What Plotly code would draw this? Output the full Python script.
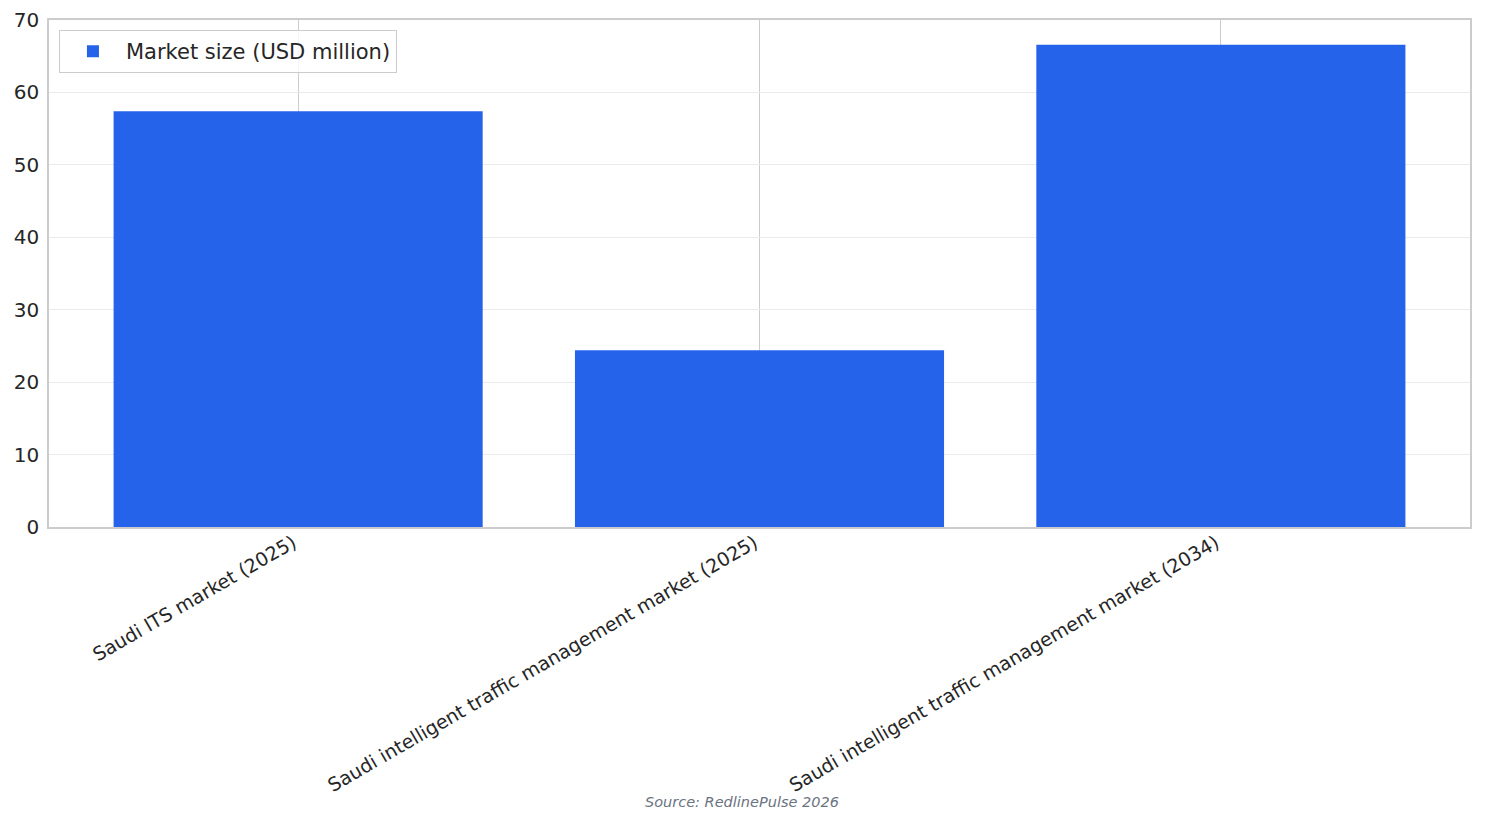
import plotly.graph_objects as go

categories = [
    "Saudi ITS market (2025)",
    "Saudi intelligent traffic management market (2025)",
    "Saudi intelligent traffic management market (2034)",
]
market_size = [57.4, 24.4, 66.6]
series_name = "Market size (USD million)"
source_note = "Source: RedlinePulse 2026"

fig = go.Figure()
fig.add_trace(go.Bar(x=categories, y=market_size, name=series_name,
                     marker=dict(color="#2563eb", line=dict(width=0)),
                     width=0.8, showlegend=True))

# page body has an 8px margin, so the figure is a bit smaller than the window
fig.update_layout(
    width=1477, height=816,
    margin=dict(l=41, r=15, t=12, b=297),
    paper_bgcolor="white", plot_bgcolor="white",
    font=dict(family="DejaVu Sans", color="#262626"),
    showlegend=True,
    legend=dict(x=0.007, y=0.98, xanchor="left", yanchor="top",
                bordercolor="#cccccc", borderwidth=1, bgcolor="rgba(255,255,255,0.8)",
                font=dict(size=21), itemwidth=56),
    bargap=0.2,
)
fig.update_xaxes(range=[-0.54, 2.54], tickangle=-30, tickfont=dict(size=19),
                 showgrid=True, gridcolor="#cccccc", gridwidth=1,
                 showline=True, linecolor="#cccccc", linewidth=1.5, mirror=True,
                 ticks="", automargin=False, ticklabelshift=-5, ticklabelstandoff=-4)
fig.update_yaxes(range=[0, 70], dtick=10, tickfont=dict(size=20),
                 showgrid=True, gridcolor="#ebebeb", gridwidth=1,
                 showline=True, linecolor="#cccccc", linewidth=1.5, mirror=True,
                 ticks="", zeroline=False, automargin=False, ticklabelstandoff=4)

fig.add_annotation(text=source_note, xref="paper", yref="paper",
                   x=0.488, y=-0.542, xanchor="center", yanchor="middle",
                   showarrow=False, font=dict(size=14.5, color="#6b7280", family="DejaVu Sans",
                                              style="italic"))

fig.write_html("out.html")
